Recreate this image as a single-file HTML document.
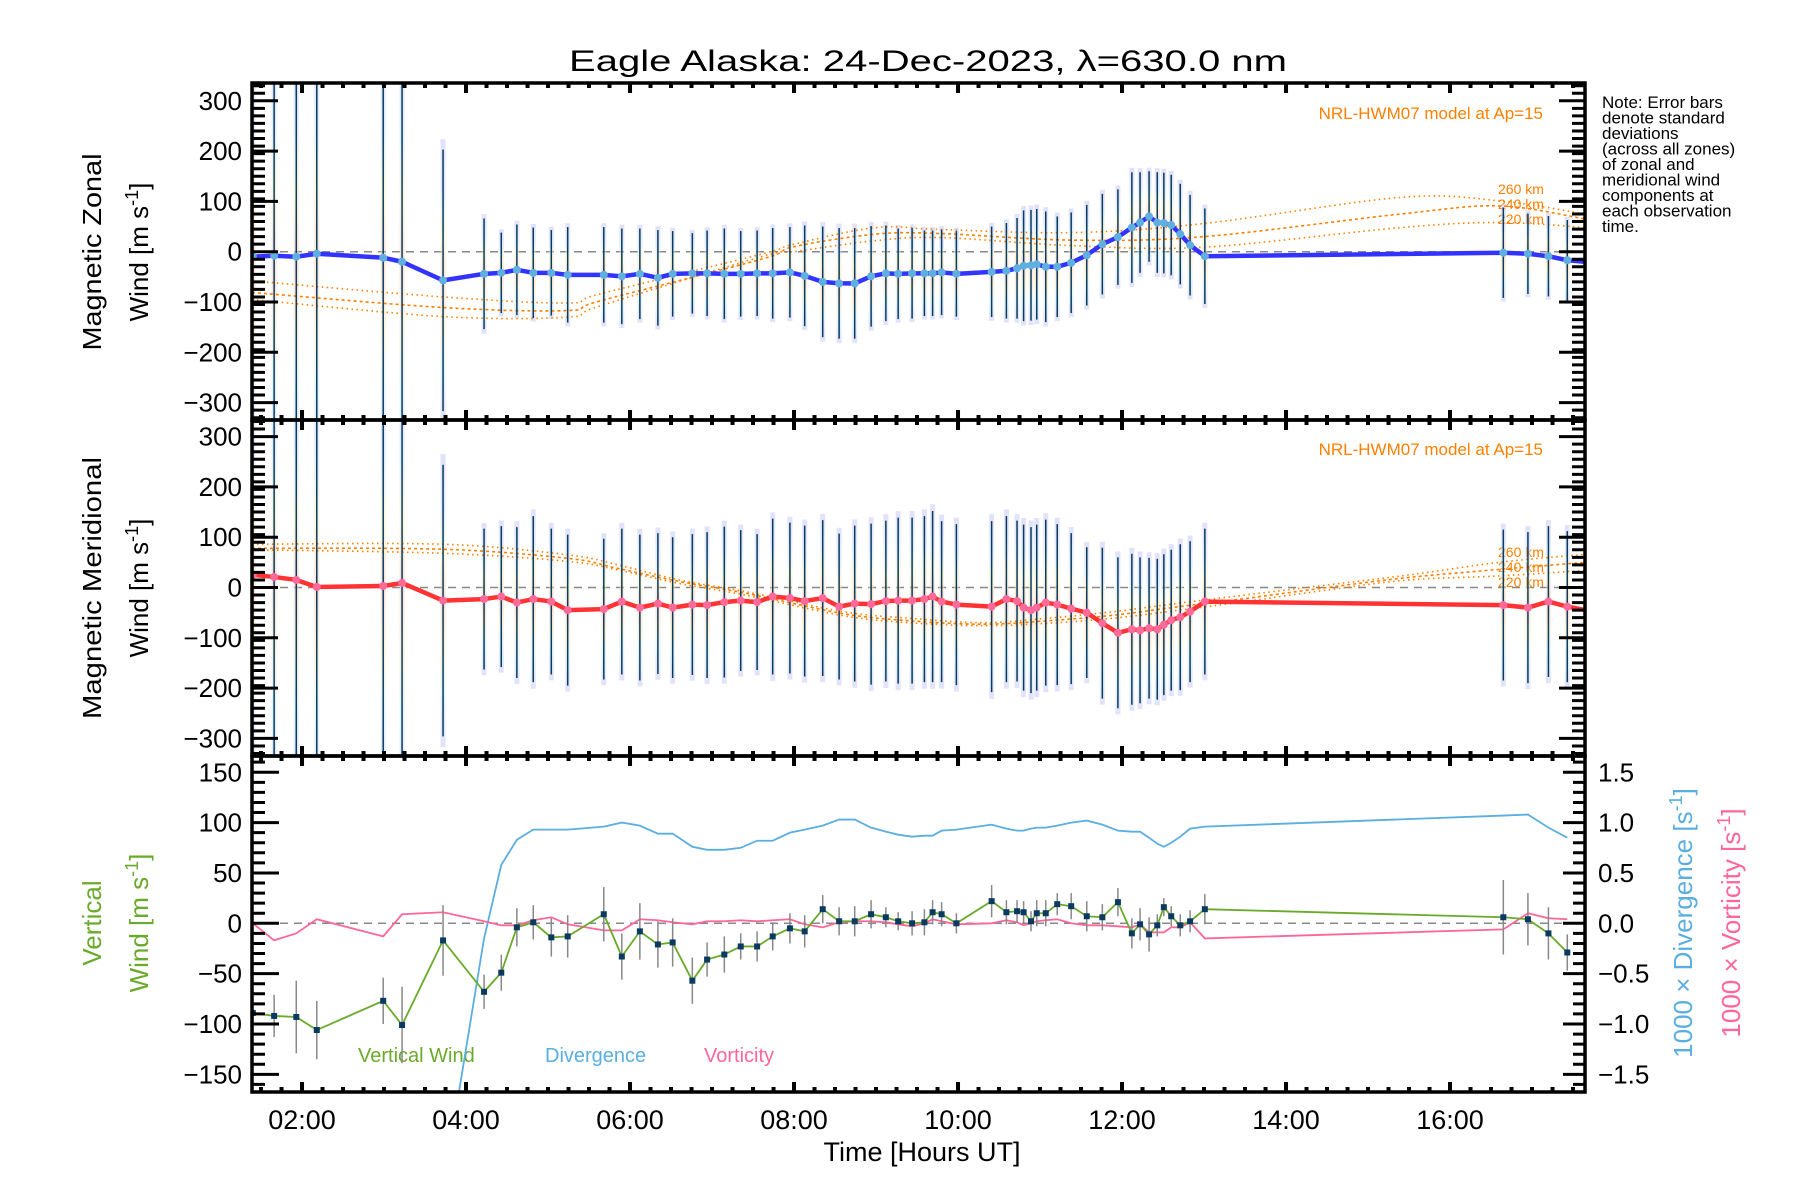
<!DOCTYPE html>
<html><head><meta charset="utf-8"><style>
html,body{margin:0;padding:0;background:#fff;}
svg{display:block;font-family:"Liberation Sans",sans-serif;}
</style></head><body>
<svg id="chart" xmlns="http://www.w3.org/2000/svg" width="1800" height="1200" viewBox="0 0 1800 1200">
<defs>
<clipPath id="c1"><rect x="252" y="83" width="1333" height="337"/></clipPath>
<clipPath id="c2"><rect x="252" y="420" width="1333" height="336"/></clipPath>
<clipPath id="c3"><rect x="252" y="756" width="1333" height="336"/></clipPath>
<linearGradient id="pastel" x1="0" y1="0" x2="0" y2="1">
<stop offset="0" stop-color="#c4c4f0"/><stop offset="0.2" stop-color="#c0dcf8"/>
<stop offset="0.35" stop-color="#f4f0b8"/><stop offset="0.5" stop-color="#f8c4b4"/>
<stop offset="0.65" stop-color="#f8e4b4"/><stop offset="0.8" stop-color="#c4ecf4"/>
<stop offset="1" stop-color="#c4c4f0"/></linearGradient>
</defs>
<text x="928" y="71" font-size="30" text-anchor="middle" textLength="718" lengthAdjust="spacingAndGlyphs">Eagle Alaska: 24-Dec-2023, λ=630.0 nm</text>
<text transform="translate(101,252) rotate(-90)" font-size="26" text-anchor="middle" textLength="197" lengthAdjust="spacingAndGlyphs">Magnetic Zonal</text>
<text transform="translate(148,252) rotate(-90)" font-size="26" text-anchor="middle">Wind [m s<tspan dy="-10" font-size="18">-1</tspan><tspan dy="10">]</tspan></text>
<text transform="translate(101,588) rotate(-90)" font-size="26" text-anchor="middle" textLength="262" lengthAdjust="spacingAndGlyphs">Magnetic Meridional</text>
<text transform="translate(148,588) rotate(-90)" font-size="26" text-anchor="middle">Wind [m s<tspan dy="-10" font-size="18">-1</tspan><tspan dy="10">]</tspan></text>
<text transform="translate(101,923) rotate(-90)" font-size="26" fill="#6aaa2a" text-anchor="middle">Vertical</text>
<text transform="translate(148,923) rotate(-90)" font-size="26" fill="#6aaa2a" text-anchor="middle">Wind [m s<tspan dy="-10" font-size="18">-1</tspan><tspan dy="10">]</tspan></text>
<text transform="translate(1692,923) rotate(-90)" font-size="26" fill="#5aaee0" text-anchor="middle">1000 × Divergence [s<tspan dy="-10" font-size="18">-1</tspan><tspan dy="10">]</tspan></text>
<text transform="translate(1740,923) rotate(-90)" font-size="26" fill="#ff6699" text-anchor="middle">1000 × Vorticity [s<tspan dy="-10" font-size="18">-1</tspan><tspan dy="10">]</tspan></text>
<text x="922" y="1161" font-size="27" text-anchor="middle">Time [Hours UT]</text>
<g font-size="17">
<text x="1602" y="108">Note: Error bars</text><text x="1602" y="123.5">denote standard</text>
<text x="1602" y="139">deviations</text><text x="1602" y="154.5">(across all zones)</text>
<text x="1602" y="170">of zonal and</text><text x="1602" y="185.5">meridional wind</text>
<text x="1602" y="201">components at</text><text x="1602" y="216.5">each observation</text>
<text x="1602" y="232">time.</text></g>
<text x="1543" y="119" font-size="17" fill="#ff8000" text-anchor="end">NRL-HWM07 model at Ap=15</text>
<text x="1543" y="455" font-size="17" fill="#ff8000" text-anchor="end">NRL-HWM07 model at Ap=15</text>
<g font-size="14" fill="#ff8000">
<text x="1498" y="194">260 km</text><text x="1498" y="209">240 km</text><text x="1498" y="224">220 km</text></g>
<g font-size="14" fill="#ff8000">
<text x="1498" y="557">260 km</text><text x="1498" y="572">240 km</text><text x="1498" y="587">220 km</text></g>
<text x="358" y="1062" font-size="20" fill="#6aaa2a">Vertical Wind</text>
<text x="545" y="1062" font-size="20" fill="#5aaee0">Divergence</text>
<text x="704" y="1062" font-size="20" fill="#ff6699">Vorticity</text>
<g id="marks"></g>
</svg>
<script>
const obsHours=[1.40,1.66,1.93,2.18,2.99,3.22,3.72,4.22,4.43,4.62,4.82,5.04,5.24,5.68,5.90,6.12,6.34,6.52,6.76,6.94,7.15,7.35,7.55,7.74,7.95,8.13,8.35,8.55,8.74,8.94,9.12,9.27,9.44,9.59,9.69,9.80,9.98,10.41,10.59,10.72,10.80,10.89,10.96,11.07,11.21,11.38,11.57,11.76,11.95,12.12,12.22,12.33,12.43,12.51,12.60,12.71,12.83,13.01,16.65,16.95,17.20,17.43];
const zonalWind=[-10,-8,-10,-4,-12,-20,-57,-44,-42,-36,-42,-42,-46,-46,-49,-44,-52,-44,-43,-43,-44,-44,-43,-43,-41,-48,-60,-63,-63,-49,-43,-44,-43,-43,-43,-41,-44,-40,-38,-33,-28,-27,-25,-30,-30,-22,-7,15,29,48,58,70,58,57,53,35,13,-9,-2,-4,-9,-17];
const zonalSigma=[400,400,400,400,400,400,260,110,80,90,90,85,95,95,95,90,95,85,80,85,90,85,85,90,90,100,110,110,110,100,95,90,90,85,85,85,85,90,95,100,110,110,110,110,100,100,100,100,95,110,100,90,100,100,100,100,100,95,90,80,80,80];
const meridWind=[25,21,15,1,3,9,-26,-23,-18,-30,-23,-28,-45,-43,-28,-40,-32,-40,-34,-35,-29,-26,-29,-18,-21,-27,-21,-38,-32,-33,-27,-26,-26,-23,-18,-28,-34,-38,-23,-27,-40,-45,-40,-30,-34,-42,-50,-71,-90,-83,-85,-81,-83,-74,-65,-59,-48,-28,-35,-40,-28,-38];
const meridSigma=[400,400,400,400,400,400,270,140,140,150,165,145,150,140,145,145,140,140,140,145,150,140,135,155,150,150,155,145,155,160,160,165,165,165,170,160,160,170,165,160,165,165,165,165,160,150,130,150,150,150,145,140,140,140,140,145,140,145,150,150,150,150];
const vertWind=[-89,-92,-93,-106,-77,-101,-17,-68,-49,-4,1,-14,-13,9,-33,-8,-21,-19,-57,-36,-31,-23,-23,-13,-5,-8,14,2,2,9,6,2,0,1,11,9,0,22,11,12,11,2,10,10,19,17,7,6,21,-10,-1,-11,-2,16,7,-2,2,14,6,4,-10,-29];
const vertSigma=[20,21,36,29,23,38,35,17,18,19,17,19,21,27,23,28,23,24,23,17,18,13,15,14,15,16,14,14,15,14,10,9,12,13,12,12,10,16,12,11,11,10,13,13,11,13,15,13,14,15,16,17,11,9,10,11,11,15,37,26,26,18];
const divergence=[-3,-3,-3,-3,-3,-3,-2.64,-0.15,0.58,0.83,0.93,0.93,0.93,0.96,1.0,0.97,0.89,0.89,0.76,0.73,0.73,0.75,0.82,0.82,0.90,0.93,0.97,1.03,1.03,0.95,0.91,0.88,0.86,0.87,0.87,0.92,0.93,0.98,0.94,0.92,0.92,0.94,0.95,0.95,0.97,1.0,1.02,0.98,0.92,0.91,0.91,0.85,0.79,0.76,0.80,0.86,0.94,0.96,1.07,1.08,0.95,0.85];
const vorticity=[0,-17,-10,4,-13,9,11,2,-2,-2,3,6,-1,-7,-7,4,3,1,-1,2,2,3,2,3,4,-1,-4,1,2,2,1,-1,-3,0,4,2,-1,0,3,1,-2,0,2,3,4,0,-2,-2,-3,-4,-1,-9,-9,-9,-4,-4,1,-15,-6,10,5,4];
const edgeHour=17.65;
const zonalEdge=-20;
const meridEdge=-45;
const modelHoursZ=[1.39,3.72,5.24,5.63,7.6,8.0,9.0,9.8,11.4,13.0,15.4,16.6,17.65];
const modelZ260=[-58,-90,-102,-84,-5,15,48,44,38,56,108,101,75];
const modelZ240=[-81,-111,-117,-98,-15,10,35,36,23,30,75,91,65];
const modelZ220=[-95,-129,-130,-108,-10,0,22,28,12,9,48,58,48];
const modelHoursM=[1.39,3.72,5.24,5.85,6.6,7.4,8.6,9.4,10.3,11.1,11.9,12.7,13.5,14.5,15.5,16.6,17.65];
const modelM260=[86,86,65,45,15,-8,-48,-61,-70,-61,-48,-31,-15,5,25,50,66];
const modelM240=[78,76,58,38,12,-11,-52,-66,-73,-66,-55,-38,-22,0,20,36,50];
const modelM220=[75,68,52,35,8,-15,-56,-70,-76,-71,-61,-45,-28,-5,15,23,34];
const xTickHours=[2,4,6,8,10,12,14,16];
const xTickLabels=["02:00","04:00","06:00","08:00","10:00","12:00","14:00","16:00"];
const windTicks=[-300,-200,-100,0,100,200,300];
const windTickLabels=["\u2212300","\u2212200","\u2212100","0","100","200","300"];
const vertTicks=[-150,-100,-50,0,50,100,150];
const vertTickLabels=["\u2212150","\u2212100","\u221250","0","50","100","150"];
const rightTicks=[-1.5,-1.0,-0.5,0.0,0.5,1.0,1.5];
const rightTickLabels=["\u22121.5","\u22121.0","\u22120.5","0.0","0.5","1.0","1.5"];

const NS="http://www.w3.org/2000/svg";
const root=document.getElementById('marks');
const L=252,R=1585;
const X=h=>L+(h-1.39)*82;
const Y1=v=>251.7-v*0.503;
const Y2=v=>587.5-v*0.503;
const Y3=v=>923.3-v*1.007;
const YD=d=>Y3(d*100);
function mk(tag,attrs,parent){const e=document.createElementNS(NS,tag);for(const k in attrs)e.setAttribute(k,attrs[k]);(parent||root).appendChild(e);return e;}
function grp(clip){const g=mk('g',clip?{'clip-path':'url(#'+clip+')'}:{});return g;}
function smooth(pts){let d='M'+pts[0][0]+','+pts[0][1];for(let i=0;i<pts.length-1;i++){const p0=pts[Math.max(0,i-1)],p1=pts[i],p2=pts[i+1],p3=pts[Math.min(pts.length-1,i+2)];d+=' C'+(p1[0]+(p2[0]-p0[0])/6)+','+(p1[1]+(p2[1]-p0[1])/6)+' '+(p2[0]-(p3[0]-p1[0])/6)+','+(p2[1]-(p3[1]-p1[1])/6)+' '+p2[0]+','+p2[1];}return d;}

[[Y1,'zonal'],[Y2,'merid'],[Y3,'vertical']].forEach(([f,n])=>{
 const z=mk('line',{x1:L,x2:R,y1:f(0),y2:f(0),stroke:'#888','stroke-width':1.5,'stroke-dasharray':'8 6'});
 
 
});

function windPanel(Yf,clip,vals,sig,edgeVal,name,lineColor,dotColor,models,mHours){
 const g=grp(clip);
 
 
 obsHours.forEach((h,i)=>{
  const s=Math.min(sig[i],400)*1.08;
  const r=mk('rect',{x:X(h)-2.5,y:Yf(vals[i]+s),width:5,height:Yf(vals[i]-s)-Yf(vals[i]+s),fill:'url(#pastel)',opacity:0.5},g);
  
  
 });
 models.forEach((m,k)=>{
  const p=mk('path',{d:smooth(mHours.map((h,i)=>[X(h),Yf(m[i])])),fill:'none',stroke:'#ff8000','stroke-width':1.6,'stroke-dasharray':k==1?'3 3':'1.5 3.5'},g);
  
  
 });
 obsHours.forEach((h,i)=>{
  const b=mk('line',{x1:X(h),x2:X(h),y1:Yf(vals[i]+sig[i]),y2:Yf(vals[i]-sig[i]),stroke:'#0a3a60','stroke-width':1.5},g);
  
  
 });
 const pts=obsHours.map((h,i)=>X(h)+','+Yf(vals[i]));
 pts.push(X(edgeHour)+','+Yf(edgeVal));
 const ln=mk('polyline',{points:pts.join(' '),fill:'none',stroke:lineColor,'stroke-width':4.5,'stroke-linejoin':'round'},g);
 
 
 obsHours.forEach((h,i)=>{
  const c=mk('circle',{cx:X(h),cy:Yf(vals[i]),r:4,fill:dotColor},g);
  
  
 });
}
windPanel(Y1,'c1',zonalWind,zonalSigma,zonalEdge,'zonal','#3333ff','#5fb0e0',[modelZ260,modelZ240,modelZ220],modelHoursZ);
windPanel(Y2,'c2',meridWind,meridSigma,meridEdge,'merid','#ff3333','#ff6a9a',[modelM260,modelM240,modelM220],modelHoursM);

const g3=grp('c3');


const dv=mk('polyline',{points:obsHours.map((h,i)=>X(h)+','+YD(divergence[i])).join(' '),fill:'none',stroke:'#5aaee0','stroke-width':1.8},g3);


const vo=mk('polyline',{points:obsHours.map((h,i)=>X(h)+','+YD(vorticity[i]/100)).join(' '),fill:'none',stroke:'#ff6699','stroke-width':1.8},g3);


obsHours.forEach((h,i)=>{
 const b=mk('line',{x1:X(h),x2:X(h),y1:Y3(vertWind[i]+vertSigma[i]),y2:Y3(vertWind[i]-vertSigma[i]),stroke:'#888','stroke-width':1.5},g3);
 
 
});
const vw=mk('polyline',{points:obsHours.map((h,i)=>X(h)+','+Y3(vertWind[i])).join(' '),fill:'none',stroke:'#6aaa2a','stroke-width':1.8},g3);


obsHours.forEach((h,i)=>{
 const s=mk('rect',{x:X(h)-3,y:Y3(vertWind[i])-3,width:6,height:6,fill:'#0a3a60'},g3);
 
 
});

const ax=grp(null);


const panels=[[83,420,Y1],[420,756,Y2],[756,1092,Y3]];
panels.forEach(([t,b,f],pi)=>{
 const fr=mk('rect',{x:L,y:t,width:R-L,height:b-t,fill:'none',stroke:'#000','stroke-width':3.5},ax);
 
 
 let d='';
 for(let h=1.5;h<=17.6;h+=0.25){const x=X(h);const maj=Math.abs(h/2-Math.round(h/2))<1e-6;const len=maj?10:5;d+='M'+x+','+t+'v'+len+'M'+x+','+b+'v-'+len;}
 const xt=mk('path',{d:d,stroke:'#000','stroke-width':4},ax);
 
 
 let dl='',dr='';
 if(pi<2){
  for(let v=-330;v<=330;v+=15){const y=f(v);dl+='M'+L+','+y+'h13';dr+='M'+R+','+y+'h-13';}
  windTicks.forEach(v=>{const y=f(v);dl+='M'+L+','+y+'h26';dr+='M'+R+','+y+'h-26';});
 }else{
  for(let v=-160;v<=160;v+=10){const y=f(v);dl+='M'+L+','+y+'h13';dr+='M'+R+','+y+'h-12';}
  vertTicks.forEach(v=>{const y=f(v);dl+='M'+L+','+y+'h27';dr+='M'+R+','+y+'h-22';});
 }
 const yt=mk('path',{d:dl+dr,stroke:'#000','stroke-width':3},ax);
 
 
 const ticks=pi<2?windTicks:vertTicks, labs=pi<2?windTickLabels:vertTickLabels;
 ticks.forEach((v,i)=>{
  const tx=mk('text',{x:242,y:f(v)+9,'font-size':26,'text-anchor':'end'},ax);
  tx.textContent=labs[i];
  
  
 });
});
rightTicks.forEach((v,i)=>{
 const tx=mk('text',{x:1598,y:YD(v)+9,'font-size':26},ax);
 tx.textContent=rightTickLabels[i];
 
 
});
xTickHours.forEach((h,i)=>{
 const tx=mk('text',{x:X(h),y:1129,'font-size':27,'text-anchor':'middle'},ax);
 tx.textContent=xTickLabels[i];
 
 
});
</script>
</body></html>
